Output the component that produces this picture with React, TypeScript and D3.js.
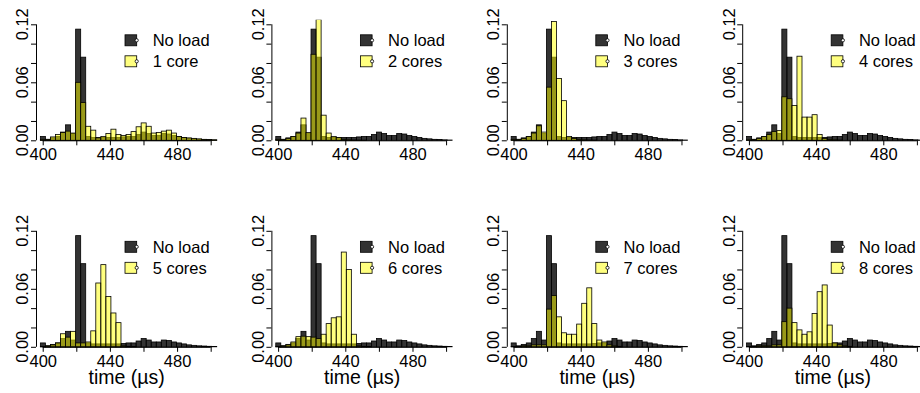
import React, { useRef, useEffect } from 'react';
import * as d3 from 'd3';

// histogram break points (µs)
const breaks = [
  398.6, 401.6, 404.6, 407.6, 410.6, 413.6, 416.6, 419.6, 422.6, 425.6, 428.6, 431.6,
  434.6, 437.6, 440.6, 443.6, 446.6, 449.6, 452.6, 455.6, 458.6, 461.6, 464.6, 467.6,
  470.6, 473.6, 476.6, 479.6, 482.6, 485.6, 488.6, 491.6, 494.6, 497.6, 500.6, 503.6,
];

// densities, one value per bin
const noLoad = [
  0.004, 0.001, 0.0025, 0.004, 0.0085, 0.016, 0.007, 0.115, 0.086, 0.004, 0.003, 0.003,
  0.003, 0.003, 0.003, 0.003, 0.0035, 0.004, 0.004, 0.006, 0.0085, 0.007, 0.005, 0.005,
  0.007, 0.0065, 0.005, 0.004, 0.003, 0.002, 0.0015, 0.001, 0.0008, 0.0005, 0.0003,
];
const load1 = [
  0.001, 0.001, 0.0035, 0.006, 0.008, 0.0095, 0.0075, 0.06, 0.039, 0.0145, 0.0105, 0.0025,
  0.004, 0.007, 0.0115, 0.006, 0.005, 0.006, 0.009, 0.014, 0.018, 0.0145, 0.0075, 0.008,
  0.0095, 0.0105, 0.0075, 0.004, 0.003, 0.0025, 0.002, 0.0015, 0.001, 0.0008, 0.0005,
];
const load2 = [
  0.001, 0.001, 0.002, 0.004, 0.0075, 0.023, 0.008, 0.089, 0.125, 0.026, 0.0075, 0.004,
  0.003, 0.001, 0.0005, 0.0003, 0.0002, 0.0001, 0, 0, 0, 0, 0, 0,
  0, 0, 0, 0, 0, 0, 0, 0, 0, 0, 0,
];
const load3 = [
  0.001, 0.001, 0.002, 0.004, 0.0075, 0.015, 0.0085, 0.055, 0.123, 0.064, 0.041, 0.004,
  0.002, 0.001, 0.0005, 0.0003, 0.0002, 0, 0, 0, 0, 0, 0, 0,
  0, 0, 0, 0, 0, 0, 0, 0, 0, 0, 0,
];
const load4 = [
  0.0005, 0.001, 0.002, 0.004, 0.006, 0.009, 0.01, 0.045, 0.043, 0.036, 0.087, 0.024,
  0.024, 0.0265, 0.006, 0.002, 0.001, 0.0005, 0.0003, 0, 0, 0, 0, 0,
  0, 0, 0, 0, 0, 0, 0, 0, 0, 0, 0,
];
const load5 = [
  0.0005, 0.001, 0.002, 0.004, 0.0135, 0.01, 0.016, 0.004, 0.004, 0.005, 0.0165, 0.066,
  0.085, 0.052, 0.035, 0.025, 0.001, 0.0005, 0.0003, 0, 0, 0, 0, 0,
  0, 0, 0, 0, 0, 0, 0, 0, 0, 0, 0,
];
const load6 = [
  0.0005, 0.001, 0.002, 0.005, 0.0105, 0.011, 0.0105, 0.01, 0.0085, 0.013, 0.024, 0.03,
  0.031, 0.098, 0.08, 0.013, 0.001, 0.0005, 0.0003, 0, 0, 0, 0, 0,
  0, 0, 0, 0, 0, 0, 0, 0, 0, 0, 0,
];
const load7 = [
  0.0003, 0.0005, 0.001, 0.001, 0.002, 0.002, 0.002, 0.039, 0.053, 0.031, 0.0145, 0.013,
  0.013, 0.0235, 0.045, 0.061, 0.024, 0.007, 0.005, 0.002, 0.001, 0.0005, 0, 0,
  0, 0, 0, 0, 0, 0, 0, 0, 0, 0, 0,
];
const load8 = [
  0.0003, 0.0005, 0.001, 0.001, 0.001, 0.002, 0.002, 0.026, 0.04, 0.025, 0.0175, 0.013,
  0.0155, 0.0345, 0.057, 0.064, 0.0225, 0.004, 0.002, 0.001, 0.0005, 0, 0, 0,
  0, 0, 0, 0, 0, 0, 0, 0, 0, 0, 0,
];

const loadSeries = [load1, load2, load3, load4, load5, load6, load7, load8];
const loadLabels = ['1 core', '2 cores', '3 cores', '4 cores', '5 cores', '6 cores', '7 cores', '8 cores'];
const noLoadLabel = 'No load';
const xTicks = [400, 420, 440, 460, 480, 500];
const xLabelled = [400, 440, 480];
const yTicks = [0, 0.02, 0.04, 0.06, 0.08, 0.1, 0.12];
const yLabelled = [0, 0.06, 0.12];
const xTitle = 'time (µs)';

const WIDTH = 920;
const HEIGHT = 393;
const FONT = '"Liberation Sans", Arial, Helvetica, sans-serif';
const DARK = 'rgba(0,0,0,0.8)';
const YELLOW = 'rgba(255,255,0,0.5)';

const App = () => {
  const svgRef = useRef<SVGSVGElement>(null);

  useEffect(() => {
    const svg = d3.select(svgRef.current);
    svg.selectAll('*').remove();

    const plotW = 181.4;
    const plotH = 116;
    const colX = [36, 271.4, 506.8, 742.2];
    const rowY = [24.3, 230.8];

    const x = d3.scaleLinear().domain([396, 504]).range([0, plotW]);
    const y = d3.scaleLinear().domain([0, 0.12]).range([plotH, 0]);
    const yTop = 0.1248; // top of the plot region, bars get clipped here

    loadSeries.forEach((series, i) => {
      const row = Math.floor(i / 4);
      const col = i % 4;
      const g = svg.append('g').attr('transform', `translate(${colX[col]},${rowY[row]})`);

      const clipId = `clip-${i}`;
      g.append('clipPath')
        .attr('id', clipId)
        .append('rect')
        .attr('x', -2)
        .attr('y', y(yTop))
        .attr('width', plotW + 4)
        .attr('height', y(0) - y(yTop) + 2);

      const bars = g.append('g').attr('clip-path', `url(#${clipId})`);

      const drawHist = (values: number[], fill: string) => {
        bars
          .append('g')
          .selectAll('rect')
          .data(values)
          .enter()
          .append('rect')
          .attr('x', (_, k) => x(breaks[k]))
          .attr('width', (_, k) => x(breaks[k + 1]) - x(breaks[k]))
          .attr('y', d => y(d))
          .attr('height', d => y(0) - y(d))
          .attr('fill', fill)
          .attr('stroke', '#000')
          .attr('stroke-width', 0.8);
      };
      drawHist(noLoad, DARK);
      drawHist(series, YELLOW);

      // x axis
      const xAxis = d3
        .axisBottom(x)
        .tickValues(xTicks)
        .tickSize(5)
        .tickSizeOuter(0)
        .tickFormat(d => (xLabelled.includes(+d) ? String(d) : ''));
      const xg = g.append('g').attr('transform', `translate(0,${plotH})`).call(xAxis);
      xg.select('.domain').remove();
      xg.append('line')
        .attr('x1', x(400))
        .attr('x2', x(500))
        .attr('y1', 0.5)
        .attr('y2', 0.5)
        .attr('stroke', '#000');
      xg.selectAll('text').attr('font-size', 16.5).attr('font-family', FONT).attr('fill', '#000');

      // y axis
      const yAxis = d3
        .axisLeft(y)
        .tickValues(yTicks)
        .tickSize(5)
        .tickSizeOuter(0)
        .tickFormat(() => '');
      const yg = g.append('g').call(yAxis);
      yg.select('.domain').remove();
      yg.append('line')
        .attr('x1', 0.5)
        .attr('x2', 0.5)
        .attr('y1', y(0))
        .attr('y2', y(0.12))
        .attr('stroke', '#000');
      yLabelled.forEach(v => {
        g.append('text')
          .attr('transform', `translate(-7.7,${y(v)}) rotate(-90)`)
          .attr('text-anchor', 'middle')
          .attr('font-size', 16.5)
          .attr('font-family', FONT)
          .text(d3.format('.2f')(v));
      });

      // x title only on the bottom row
      if (row === 1) {
        g.append('text')
          .attr('x', plotW / 2)
          .attr('y', 153.2)
          .attr('text-anchor', 'middle')
          .attr('font-size', 19.5)
          .attr('font-family', FONT)
          .text(xTitle);
      }

      // legend
      const legend = [
        { label: noLoadLabel, fill: DARK, y: 10.5 },
        { label: loadLabels[i], fill: YELLOW, y: 31.5 },
      ];
      legend.forEach(l => {
        g.append('rect')
          .attr('x', 89)
          .attr('y', l.y)
          .attr('width', 11.7)
          .attr('height', 11)
          .attr('fill', l.fill)
          .attr('stroke', '#000')
          .attr('stroke-width', 0.8);
        g.append('circle')
          .attr('cx', 100.7)
          .attr('cy', l.y + 5.5)
          .attr('r', 1.6)
          .attr('fill', '#fff')
          .attr('stroke', '#000')
          .attr('stroke-width', 0.8);
        g.append('text')
          .attr('x', 116.7)
          .attr('y', l.y + 11.6)
          .attr('font-size', 16.5)
          .attr('font-family', FONT)
          .text(l.label);
      });
    });
  }, []);

  return (
    <svg
      ref={svgRef}
      width={WIDTH}
      height={HEIGHT}
      style={{ position: 'absolute', left: 0, top: 0, background: '#fff' }}
    />
  );
};

export default App;
